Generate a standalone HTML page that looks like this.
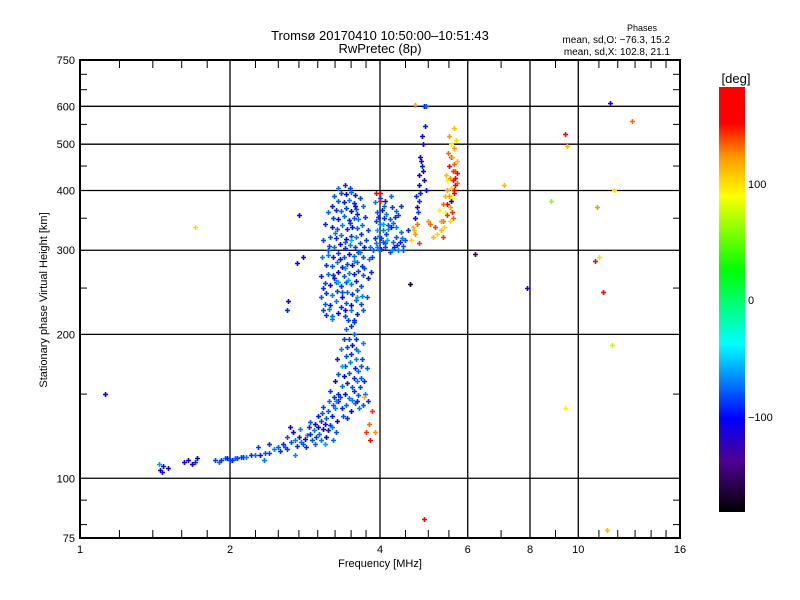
<!DOCTYPE html>
<html><head><meta charset="utf-8"><style>
body{margin:0;background:#fff;}
svg{display:block;font-family:"Liberation Sans",sans-serif;}
</style></head><body>
<svg id="chart" width="800" height="600" viewBox="0 0 800 600">
<defs>
<linearGradient id="cbg" x1="0" y1="1" x2="0" y2="0">
<stop offset="0" stop-color="#000000"/>
<stop offset="0.12" stop-color="#500090"/>
<stop offset="0.22" stop-color="#0000ff"/>
<stop offset="0.395" stop-color="#00ffff"/>
<stop offset="0.57" stop-color="#00ff00"/>
<stop offset="0.745" stop-color="#ffff00"/>
<stop offset="0.835" stop-color="#ff9900"/>
<stop offset="0.915" stop-color="#ff0000"/>
<stop offset="1" stop-color="#ff0000"/>
</linearGradient>
</defs>
<rect width="800" height="600" fill="#fff"/>
<text x="380" y="40" text-anchor="middle" font-size="13">Tromsø 20170410 10:50:00–10:51:43</text>
<text x="380" y="53" text-anchor="middle" font-size="13">RwPretec (8p)</text>
<text x="642" y="31" text-anchor="middle" font-size="9">Phases</text>
<text x="670" y="43" text-anchor="end" font-size="10">mean, sd,O: −76.3, 15.2</text>
<text x="670" y="55" text-anchor="end" font-size="10">mean, sd,X: 102.8, 21.1</text>
<g id="grid"></g>
<g id="points"></g>
<rect x="80" y="60" width="600" height="478" fill="none" stroke="#000" stroke-width="2"/>
<g id="axes"></g>
<text x="380" y="567" text-anchor="middle" font-size="11">Frequency [MHz]</text>
<text transform="translate(47,300) rotate(-90)" text-anchor="middle" font-size="11">Stationary phase Virtual Height [km]</text>
<rect x="719" y="87" width="26" height="425" fill="url(#cbg)"/>
<text x="736" y="83" text-anchor="middle" font-size="13">[deg]</text>
<text x="748" y="188" font-size="11">100</text>
<text x="748" y="304" font-size="11">0</text>
<text x="748" y="421" font-size="11">−100</text>
</svg>
<script>
const xTicks=[1,2,4,6,8,10,16];
const xGrid=[2,4,6,8,10];
const yTicks=[75,100,200,300,400,500,600,750];
const yGrid=[100,200,300,400,500,600];
// [frequency MHz, virtual height km, phase deg]
const eTrace=[[1.45,104,-110],[1.47,106,-120],[1.5,105,-100],[1.46,103,-95],[1.44,107,-60],[1.62,108,-110],[1.65,109,-100],[1.7,108,-90],[1.68,107,-105],[1.72,110,-100],[1.87,109,-85],[1.9,108,-75],[1.92,109,-90],[1.95,110,-70],[1.97,110,-95],[2.0,109,-80],[2.02,109,-90],[2.05,110,-70],[2.07,110,-85],[2.1,111,-80],[2.12,111,-88],[2.15,111,-70],[2.2,112,-90],[2.25,112,-75],[2.3,112,-95],[2.35,113,-80],[2.4,113,-85],[2.45,115,-70],[2.5,116,-80],[2.52,114,-90],[2.55,118,-90],[2.58,116,-75],[2.6,115,-85],[2.65,119,-80],[2.7,120,-70],[2.72,117,-90],[2.75,122,-95],[2.78,119,-75],[2.8,118,-80],[2.83,121,-100],[2.85,123,-70],[2.9,124,-90],[2.92,120,-80],[2.95,126,-70],[2.98,122,-85],[3.0,128,-100],[3.02,124,-75],[3.05,132,-85],[3.08,127,-110],[3.1,130,-110],[3.12,134,-75],[3.15,138,-80],[3.18,129,-90],[3.2,135,-95],[3.22,142,-80],[3.25,140,-70],[3.28,132,-100],[3.3,145,-100],[2.88,128,-90],[2.96,130,-110],[3.06,137,-80],[3.14,126,-95]];
const eSpread=[[2.6,122,-80],[2.68,125,-100],[2.76,127,-70],[2.84,116,-90],[2.9,131,-80],[2.96,118,-75],[3.0,135,-95],[3.04,120,-70],[3.08,141,-85],[3.12,122,-100],[3.16,145,-75],[3.2,128,-70],[3.24,148,-90],[3.27,125,-80],[2.7,112,-65],[2.64,128,-110],[3.1,118,-60],[3.18,152,-85],[3.22,120,-75],[2.4,118,-90],[2.34,109,-70],[2.28,116,-85]];
const f1Layer=[[3.35,140,-90],[3.42,142,-75],[3.5,138,-100],[3.57,144,-80],[3.63,140,-70],[3.32,148,-85],[3.4,150,-110],[3.47,147,-70],[3.55,152,-90],[3.62,149,-80],[3.36,156,-75],[3.44,158,-95],[3.52,155,-80],[3.6,160,-70],[3.38,164,-100],[3.46,166,-80],[3.54,162,-90],[3.62,168,-75],[3.4,172,-85],[3.48,175,-70],[3.56,170,-95],[3.42,180,-80],[3.5,182,-90],[3.58,178,-70],[3.44,188,-85],[3.52,190,-100],[3.47,196,-80],[3.55,200,-75],[3.5,208,-90],[3.45,214,-85],[3.3,150,-90],[3.58,186,-75],[3.65,155,-85],[3.6,145,-95],[3.37,135,-80],[3.52,146,-70],[3.44,134,-90],[3.66,162,-80],[3.25,160,-100],[3.35,172,-60],
[3.7,142,-80],[3.74,150,-70],[3.72,160,-90],[3.76,170,-75],[3.68,178,-85],[3.3,165,-80],[3.28,178,-95],[3.34,186,-70],[3.38,196,-85],[3.42,205,-75],[3.58,196,-90],[3.62,185,-65],[3.66,172,-80],[3.7,192,-70],[3.54,212,-85],[3.4,225,-100],[3.26,145,-70],[3.78,145,-90]];
const fBlock=[[3.12,220,-90],[3.2,218,-75],[3.3,222,-100],[3.4,219,-85],[3.5,225,-70],[3.6,221,-95],
[3.1,232,-80],[3.18,230,-95],[3.26,235,-70],[3.34,228,-90],[3.42,233,-80],[3.5,230,-100],[3.58,236,-75],[3.66,231,-85],
[3.12,244,-90],[3.2,242,-70],[3.28,247,-85],[3.36,240,-100],[3.44,245,-75],[3.52,243,-90],[3.6,248,-80],[3.68,241,-70],
[3.1,256,-85],[3.18,254,-100],[3.26,258,-75],[3.34,252,-90],[3.42,257,-80],[3.5,255,-70],[3.58,259,-95],[3.66,253,-85],
[3.14,268,-75],[3.22,266,-90],[3.3,270,-100],[3.38,265,-80],[3.46,269,-70],[3.54,267,-95],[3.62,271,-85],[3.7,266,-80],
[3.12,280,-90],[3.2,278,-80],[3.28,283,-70],[3.36,277,-95],[3.44,281,-85],[3.52,279,-100],[3.6,284,-75],[3.68,278,-90],
[3.14,293,-70],[3.22,291,-95],[3.3,296,-85],[3.38,290,-80],[3.46,294,-100],[3.54,292,-75],[3.62,297,-90],[3.7,291,-80],
[3.16,306,-85],[3.24,304,-75],[3.32,309,-100],[3.4,303,-90],[3.48,307,-70],[3.56,305,-85],[3.64,310,-80],[3.72,304,-95],
[3.18,320,-80],[3.26,318,-90],[3.34,323,-75],[3.42,317,-100],[3.5,321,-85],[3.58,319,-70],[3.66,324,-90],
[3.2,335,-95],[3.28,333,-80],[3.36,338,-70],[3.44,332,-90],[3.52,336,-100],[3.6,334,-80],[3.68,339,-75],
[3.22,350,-85],[3.3,348,-100],[3.38,353,-75],[3.46,347,-90],[3.54,351,-80],[3.62,349,-70],
[3.26,365,-90],[3.34,363,-75],[3.42,368,-85],[3.5,362,-100],[3.58,366,-80],
[3.3,380,-80],[3.38,378,-95],[3.46,383,-70],[3.54,377,-90],[3.34,395,-85],[3.42,393,-100],[3.5,398,-75],[3.4,410,-90],
[3.16,226,-70],[3.24,262,-95],[3.32,288,-100],[3.4,312,-75],[3.48,342,-85],[3.56,372,-95],[3.64,298,-70],[3.72,276,-85],[3.08,250,-90],[3.15,300,-80],[3.75,315,-85],[3.6,358,-95],[3.25,326,-70],[3.45,260,-60],[3.35,245,-80],[3.55,285,-65],[2.75,355,-110],[2.8,290,-110],[2.72,282,-100]];
const fBlockEdge=[[3.04,240,-80],[3.05,265,-95],[3.06,290,-70],[3.07,315,-85],[3.1,340,-90],[3.14,360,-75],[3.76,240,-80],[3.78,262,-95],[3.8,288,-70],[3.78,330,-85],[3.74,352,-90],[3.7,372,-75],[3.64,385,-85],[3.2,372,-95],[3.24,390,-80],[3.3,404,-70],[3.48,405,-85],[3.56,392,-95],[3.82,305,-75],[3.84,270,-90],[3.08,225,-85],[3.7,225,-80],[3.2,215,-70],[3.55,214,-90],[3.3,258,-60],[3.5,315,-55],[3.4,275,-65],[3.6,240,-60]];
const fBlock4=[[3.88,300,-80],[3.95,305,-70],[4.02,302,-90],[4.1,310,-75],[4.18,298,-85],[4.26,304,-95],[4.35,300,-70],[4.45,306,-80],
[3.9,318,-90],[3.98,322,-75],[4.05,330,-70],[4.12,325,-85],[4.2,335,-95],[4.3,320,-80],[4.4,328,-75],
[3.92,345,-85],[4.0,340,-70],[4.08,350,-90],[4.16,338,-80],[4.25,342,-75],[4.35,355,-85],
[3.95,360,-80],[4.03,365,-95],[4.12,358,-70],[4.22,370,-85],[4.3,362,-75],[4.4,372,-90],
[3.9,378,-70],[4.0,385,-85],[4.1,380,-95],[4.2,390,-75],[4.05,312,-80],[4.15,332,-65],[4.28,352,-90],[3.98,300,-75],[4.1,305,-85],[4.22,300,-70],[4.5,315,-80],[4.55,330,-90],[4.0,395,150],[3.95,330,-60],[4.45,300,-80],[4.38,312,-95],[4.08,372,-75],[3.85,290,-85],
[3.92,310,-70],[4.02,318,-85],[4.14,315,-60],[4.25,312,-75],[4.32,308,-90],[4.42,318,-70],[3.96,352,-90],[4.06,340,-60],[4.18,348,-80],[4.3,335,-70]];
const fColumn=[[4.62,315,100],[4.68,330,110],[4.7,350,-100],[4.75,370,-110],[4.72,390,-90],[4.8,410,-100],[4.78,430,-110],[4.85,450,-95],[4.82,470,-100],[4.88,500,-110],[4.74,340,130],[4.8,380,-90],[4.9,420,-105],[4.86,520,-100],[4.92,545,-95],[4.84,460,-110],[4.95,400,-100],[4.7,325,120],[4.78,310,140],[4.9,600,-100],[4.76,360,-85],[4.82,395,-95],[4.88,440,-100],[4.65,335,110]];
const xTrace=[[5.3,330,110],[5.35,345,130],[5.4,360,90],[5.45,375,150],[5.5,390,120],[5.55,405,100],[5.6,420,170],[5.65,440,130],[5.7,460,110],[5.38,335,100],[5.45,355,140],[5.52,370,120],[5.58,385,90],[5.64,400,160],[5.7,415,130],[5.42,430,110],[5.5,450,150],[5.56,470,170],[5.62,490,120],[5.68,510,100],[5.48,480,130],[5.55,500,90],[5.6,440,140],[5.66,425,160],[5.5,520,120],[5.58,470,110],[5.62,395,150],[5.56,380,-100],[5.6,350,130],[5.1,320,110],[5.15,335,140],[5.2,325,100],[5.0,345,120],[5.05,340,130],[5.25,365,90],[5.3,345,120],[5.62,540,110],[5.66,410,150],[5.44,400,120],[5.52,345,100],[5.36,320,140],[5.64,455,130],[5.7,435,170],[5.46,420,90],[5.54,425,120],[5.58,360,140],[5.4,390,110],[5.34,375,130]];
const outliers=[[1.12,150,-100],[1.7,335,100],[2.62,235,-100],[2.6,225,-90],[4.7,605,120],[4.95,600,-80],[4.6,255,-170],[4.9,82,170],[6.2,295,-150],[7.1,410,110],[7.9,250,-120],[8.8,380,60],[9.4,525,170],[9.5,495,110],[9.4,140,90],[10.8,285,170],[11.0,290,100],[11.2,245,170],[10.9,370,120],[11.6,610,-110],[11.8,400,100],[11.4,78,110],[12.8,560,130],[11.7,190,70],[3.8,130,130],[3.85,138,140],[3.9,125,120],[3.82,120,150],[3.72,148,110],[3.75,125,140],[3.92,395,150],[4.0,380,170]];

const X0=80,X1=680,Y0=538,Y1=60;
function xs(f){return X0+(X1-X0)*Math.log(f)/Math.log(16);}
function ys(h){return Y0-(Y0-Y1)*Math.log(h/75)/Math.log(10);}
const stops=[[-180,[0,0,0]],[-137,[80,0,144]],[-100,[0,0,255]],[-37,[0,255,255]],[26,[0,255,0]],[88,[255,255,0]],[120,[255,153,0]],[149,[255,0,0]],[180,[255,0,0]]];
function pcol(v){v=Math.max(-180,Math.min(180,v));for(let i=0;i<stops.length-1;i++){const a=stops[i],b=stops[i+1];if(v<=b[0]){const t=(v-a[0])/(b[0]-a[0]);const c=a[1].map((x,k)=>Math.round(x+(b[1][k]-x)*t));return `rgb(${c[0]},${c[1]},${c[2]})`;}}return 'red';}
const NS='http://www.w3.org/2000/svg';
function mk(tag,attrs,parent){const e=document.createElementNS(NS,tag);for(const k in attrs)e.setAttribute(k,attrs[k]);parent.appendChild(e);return e;}
const grid=document.getElementById('grid'),axes=document.getElementById('axes'),pts=document.getElementById('points');
xGrid.forEach(f=>{const l=mk('line',{x1:xs(f),x2:xs(f),y1:Y1,y2:Y0,stroke:'#000','stroke-width':1.3},grid);

});
yGrid.forEach(h=>{const l=mk('line',{x1:X0,x2:X1,y1:ys(h),y2:ys(h),stroke:'#000','stroke-width':1.3},grid);

});
xTicks.forEach(f=>{const t=mk('text',{x:xs(f),y:Y0+15,'text-anchor':'middle','font-size':11},axes);t.textContent=f;

});
yTicks.forEach(h=>{const t=mk('text',{x:X0-5,y:ys(h)+4,'text-anchor':'end','font-size':11},axes);t.textContent=h;

});
const minorX=[1.2,1.4,1.6,1.8,2.25,2.5,2.75,3,3.25,3.5,3.75,4.5,5,5.5,7,9,11,12,13,14,15];
minorX.forEach(f=>{mk('line',{x1:xs(f),x2:xs(f),y1:Y1,y2:Y1+8,stroke:'#000'},axes);mk('line',{x1:xs(f),x2:xs(f),y1:Y0,y2:Y0-8,stroke:'#000'},axes);});
const minorY=[80,90,150,250,350,450,550,650,700];
minorY.forEach(h=>{mk('line',{x1:X0,x2:X0+7,y1:ys(h),y2:ys(h),stroke:'#000'},axes);mk('line',{x1:X1,x2:X1-7,y1:ys(h),y2:ys(h),stroke:'#000'},axes);});
[eTrace,eSpread,f1Layer,fBlock,fBlockEdge,fBlock4,fColumn,xTrace,outliers].forEach(set=>set.forEach(d=>{
 const x=Math.round(xs(d[0]))+0.5,y=Math.round(ys(d[1]))+0.5;
 const p=mk('path',{d:`M${x-2.5},${y}H${x+2.5}M${x},${y-2.5}V${y+2.5}`,stroke:pcol(d[2]),'stroke-width':1.6,fill:'none'},pts);
 
 
}));
</script>
</body></html>
